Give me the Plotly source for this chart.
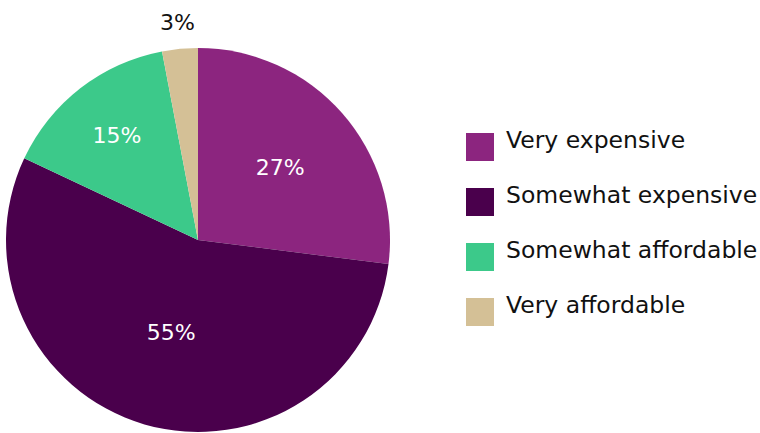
import math
import plotly.graph_objects as go

# Survey responses on cost perception
categories = ["Very expensive", "Somewhat expensive", "Somewhat affordable", "Very affordable"]
shares = [27, 55, 15, 3]
colors = ["#8C257F", "#4A004C", "#3CC98A", "#D4C096"]

FONT = "DejaVu Sans"
FSIZE = 22
LEGEND_FSIZE = 23.5
W, H = 760, 433

# Pie geometry in pixels
CX, CY, R = 198, 240, 192

fig = go.Figure(
    go.Pie(
        labels=categories,
        values=shares,
        sort=False,
        direction="clockwise",
        rotation=0,
        marker=dict(colors=colors, line=dict(width=0)),
        text=[f"{v}%" for v in shares[:3]] + [""],
        textinfo="text",
        textposition=["inside", "inside", "inside", "none"],
        insidetextfont=dict(color="white", size=FSIZE, family=FONT),
        insidetextorientation="horizontal",
        hoverinfo="label+percent",
        domain=dict(x=[(CX - R) / W, (CX + R) / W], y=[(H - CY - R) / H, (H - CY + R) / H]),
        showlegend=False,
    )
)

# Small slice label placed just outside the rim at its mid-angle
total = sum(shares)
start = sum(shares[:3])
mid = (start + shares[3] / 2) / total * 2 * math.pi
lx = CX + 1.14 * R * math.sin(mid)
ly = CY - 1.14 * R * math.cos(mid)
fig.add_annotation(
    xref="paper", yref="paper", x=lx / W, y=1 - ly / H,
    text=f"{shares[3]}%", showarrow=False, xanchor="center", yanchor="middle",
    font=dict(size=FSIZE, color="#111111", family=FONT),
)

# Legend drawn as square swatches with labels
legend_top = 133
step = 55
for i, (name, col) in enumerate(zip(categories, colors)):
    y0 = legend_top + i * step
    fig.add_shape(
        type="rect", xref="paper", yref="paper",
        x0=466 / W, x1=494 / W, y0=1 - (y0 + 28) / H, y1=1 - y0 / H,
        fillcolor=col, line=dict(width=0),
    )
    fig.add_annotation(
        xref="paper", yref="paper", x=504 / W, y=1 - (y0 + 7) / H,
        text=name, showarrow=False, xanchor="left", yanchor="middle",
        font=dict(size=LEGEND_FSIZE, color="#111111", family=FONT),
    )

fig.update_layout(
    width=W, height=H,
    margin=dict(l=0, r=0, t=0, b=0),
    paper_bgcolor="white",
    plot_bgcolor="white",
)

fig.write_html("out.html")
